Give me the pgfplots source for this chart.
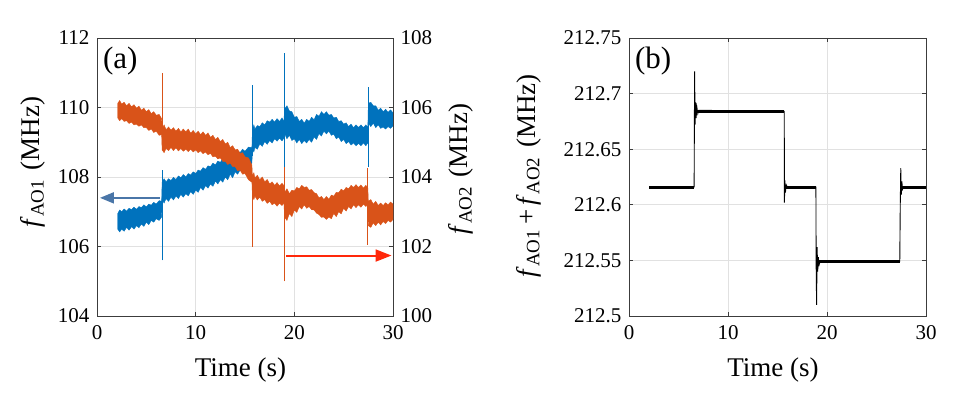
\documentclass[border=0pt]{standalone}
\usepackage{fontspec}
\setmainfont{Liberation Serif}
\usepackage{pgfplots}
\pgfplotsset{compat=1.18}
\usetikzlibrary{arrows.meta}

\definecolor{mblue}{RGB}{0,114,189}
\definecolor{morange}{RGB}{217,83,25}
\definecolor{arrblue}{RGB}{74,118,168}
\definecolor{arrred}{RGB}{255,40,10}
\definecolor{gridc}{RGB}{225,225,225}
\definecolor{axc}{RGB}{60,60,60}

\newcommand{\tickfont}{\fontsize{21}{21}\selectfont}
\newcommand{\labfont}{\fontsize{27}{27}\selectfont}

\pgfplotsset{
  base/.style={
    scale only axis, width=296pt, height=278pt,
    xmin=0, xmax=30, xtick={0,10,20,30},
    tick align=inside, major tick length=4pt,
    axis line style={axc, line width=0.8pt},
    every tick/.style={axc, line width=0.8pt},
    tick label style={font=\tickfont},
    label style={font=\labfont},
    /pgf/number format/assume math mode=true,
    xticklabel style={yshift=-6pt},
    xlabel={Time (s)},
    xlabel style={at={(axis description cs:0.485,-0.195)}, anchor=center},
    clip=true,
  },
}

\begin{document}
\begin{tikzpicture}
\path[use as bounding box] (0pt,0pt) rectangle (957pt,394pt);

% ---------------- (a) left axis: f_AO1 ----------------
\begin{axis}[base,
  at={(97pt,78pt)}, anchor=south west,
  ymin=104, ymax=112, ytick={104,106,108,110,112},
  ytick pos=left,
  xmajorgrids, ymajorgrids,
  grid style={gridc, line width=0.8pt},
  yticklabel style={xshift=-4pt},
  ylabel={\textit{f}\textsubscript{AO1}\hspace{0.35em}(MHz)},
  ylabel style={at={(axis description cs:-0.216,0.554)}, anchor=center, rotate=0},
]
% noisy band of f_AO1 (upper edge, then lower edge back)
\addplot[fill=mblue, draw=mblue, line width=0.4pt] coordinates {
(2.1,106.95) (2.3,107.05) (2.5,107.00) (2.75,107.08) (3.0,107.02) (3.25,107.1) (3.5,107.06)
(3.75,107.13) (4.0,107.07) (4.25,107.15) (4.5,107.12) (4.75,107.2) (5.0,107.14) (5.25,107.22)
(5.5,107.19) (5.75,107.27) (6.0,107.22) (6.3,107.32) (6.55,107.30) (6.6,107.85) (6.8,107.95)
(7.0,107.86) (7.25,107.95) (7.5,107.90) (7.75,107.99) (8.0,107.93) (8.25,108.03) (8.5,107.98)
(8.75,108.07) (9.0,108.00) (9.25,108.1) (9.5,108.06) (9.75,108.15) (10.0,108.10) (10.25,108.2)
(10.5,108.17) (10.75,108.27) (11.0,108.22) (11.25,108.32) (11.5,108.30) (11.75,108.4) (12.0,108.35)
(12.25,108.46) (12.5,108.42) (12.75,108.53) (13.0,108.48) (13.25,108.6) (13.5,108.58) (13.75,108.7)
(14.0,108.65) (14.25,108.76) (14.5,108.70) (14.75,108.8) (15.0,108.74) (15.35,108.86) (15.7,108.85)
(15.75,109.35) (15.9,109.5) (16.0,109.38) (16.25,109.48) (16.5,109.45) (16.75,109.56) (17.0,109.50)
(17.25,109.62) (17.5,109.58) (17.75,109.66) (18.0,109.58) (18.25,109.68) (18.5,109.60) (18.75,109.7)
(18.95,109.60) (19.0,109.95) (19.25,110.05) (19.5,109.90) (19.75,109.88) (20.0,109.72) (20.25,109.74)
(20.5,109.60) (20.75,109.66) (21.0,109.55) (21.25,109.66) (21.5,109.60) (21.75,109.72) (22.0,109.65)
(22.25,109.8) (22.5,109.75) (22.75,109.88) (23.0,109.80) (23.25,109.88) (23.5,109.78) (23.75,109.8)
(24.0,109.70) (24.25,109.72) (24.5,109.60) (24.75,109.62) (25.0,109.52) (25.25,109.56) (25.5,109.45)
(25.75,109.52) (26.0,109.42) (26.25,109.5) (26.5,109.43) (26.75,109.5) (27.0,109.42) (27.25,109.5)
(27.45,109.42) (27.5,110.12) (27.75,110.15) (28.0,110.05) (28.25,110.05) (28.5,109.92) (28.75,109.98)
(29.0,109.88) (29.25,109.95) (29.5,109.86) (29.75,109.93) (30.0,109.85)
(30.0,109.47) (29.75,109.4) (29.5,109.45) (29.25,109.38) (29.0,109.44) (28.75,109.4) (28.5,109.50)
(28.25,109.42) (28.0,109.55) (27.75,109.45) (27.5,109.55) (27.45,108.98) (27.25,108.9) (27.0,108.98)
(26.75,108.9) (26.5,108.97) (26.25,108.9) (26.0,108.98) (25.75,108.92) (25.5,109.02) (25.25,108.96)
(25.0,109.08) (24.75,109.02) (24.5,109.15) (24.25,109.1) (24.0,109.23) (23.75,109.2) (23.5,109.32)
(23.25,109.24) (23.0,109.32) (22.75,109.18) (22.5,109.25) (22.25,109.08) (22.0,109.15) (21.75,109.0)
(21.5,109.08) (21.25,108.98) (21.0,109.05) (20.75,108.96) (20.5,109.08) (20.25,108.98) (20.0,109.10)
(19.75,109.05) (19.5,109.20) (19.25,109.1) (19.0,109.25) (18.95,109.12) (18.75,109.04) (18.5,109.12)
(18.25,109.03) (18.0,109.10) (17.75,108.98) (17.5,109.05) (17.25,108.94) (17.0,109.02) (16.75,108.88)
(16.5,108.95) (16.25,108.8) (16.0,108.85) (15.9,108.72) (15.75,108.80) (15.7,108.40) (15.35,108.26)
(15.0,108.28) (14.75,108.14) (14.5,108.20) (14.25,108.08) (14.0,108.15) (13.75,107.98) (13.5,108.08)
(13.25,107.92) (13.0,108.00) (12.75,107.85) (12.5,107.92) (12.25,107.8) (12.0,107.88) (11.75,107.73)
(11.5,107.80) (11.25,107.68) (11.0,107.75) (10.75,107.62) (10.5,107.70) (10.25,107.56) (10.0,107.62)
(9.75,107.5) (9.5,107.58) (9.25,107.46) (9.0,107.52) (8.75,107.42) (8.5,107.50) (8.25,107.38)
(8.0,107.45) (7.75,107.34) (7.5,107.42) (7.25,107.3) (7.0,107.38) (6.8,107.25) (6.6,107.35)
(6.55,106.85) (6.3,106.75) (6.0,106.80) (5.75,106.7) (5.5,106.75) (5.25,106.63) (5.0,106.70)
(4.75,106.58) (4.5,106.65) (4.25,106.54) (4.0,106.60) (3.75,106.5) (3.5,106.57) (3.25,106.47)
(3.0,106.55) (2.75,106.44) (2.5,106.50) (2.3,106.42) (2.1,106.50)
} -- cycle;
% transients of f_AO1 at the switching instants
\addplot[mblue, line width=1pt] coordinates {(6.6,105.6) (6.6,108.2)};
\addplot[mblue, line width=1pt] coordinates {(15.75,108.6) (15.75,110.65)};
\addplot[mblue, line width=1pt] coordinates {(19.0,108.3) (19.0,111.58)};
\addplot[mblue, line width=1pt] coordinates {(27.5,108.3) (27.5,110.6)};
% arrow pointing to the left axis
\addplot[arrblue, line width=2pt, -{Triangle[length=14pt, width=11pt]}] coordinates {(6.4,107.4) (0.3,107.4)};
\node[anchor=west, font=\fontsize{31}{31}\selectfont, inner sep=0pt] at (axis description cs:0.02,0.917) {(a)};
\end{axis}

% ---------------- (a) right axis: f_AO2 ----------------
\begin{axis}[base,
  at={(97pt,78pt)}, anchor=south west,
  ymin=100, ymax=108, ytick={100,102,104,106,108},
  axis y line*=right, axis x line=none,
  yticklabel style={xshift=4pt},
  ylabel={\textit{f}\textsubscript{AO2}\hspace{0.35em}(MHz)},
  ylabel style={at={(axis description cs:1.23,0.529)}, anchor=center, rotate=0},
]
% noisy band of f_AO2 (upper edge, then lower edge back)
\addplot[fill=morange, draw=morange, line width=0.4pt] coordinates {
(2.1,106.12) (2.3,106.2) (2.5,106.10) (2.75,106.15) (3.0,106.05) (3.25,106.12) (3.5,106.02)
(3.75,106.08) (4.0,105.98) (4.25,106.04) (4.5,105.92) (4.75,105.98) (5.0,105.88) (5.25,105.94)
(5.5,105.82) (5.75,105.88) (6.0,105.78) (6.3,105.8) (6.55,105.68) (6.6,105.38) (6.8,105.5)
(7.0,105.36) (7.25,105.44) (7.5,105.35) (7.75,105.42) (8.0,105.32) (8.25,105.4) (8.5,105.30)
(8.75,105.38) (9.0,105.30) (9.25,105.38) (9.5,105.26) (9.75,105.34) (10.0,105.24) (10.25,105.32)
(10.5,105.22) (10.75,105.3) (11.0,105.20) (11.25,105.27) (11.5,105.14) (11.75,105.2) (12.0,105.08)
(12.25,105.14) (12.5,105.02) (12.75,105.08) (13.0,104.95) (13.25,105.0) (13.5,104.85) (13.75,104.9)
(14.0,104.78) (14.25,104.8) (14.5,104.68) (14.75,104.7) (15.0,104.58) (15.35,104.55) (15.7,104.35)
(15.75,104.02) (15.9,104.12) (16.0,103.98) (16.25,104.05) (16.5,103.92) (16.75,104.0) (17.0,103.86)
(17.25,103.93) (17.5,103.80) (17.75,103.86) (18.0,103.76) (18.25,103.84) (18.5,103.74) (18.75,103.82)
(18.95,103.75) (19.0,103.55) (19.25,103.66) (19.5,103.52) (19.75,103.62) (20.0,103.60) (20.25,103.7)
(20.5,103.66) (20.75,103.76) (21.0,103.70) (21.25,103.72) (21.5,103.62) (21.75,103.64) (22.0,103.55)
(22.25,103.52) (22.5,103.40) (22.75,103.44) (23.0,103.35) (23.25,103.44) (23.5,103.36) (23.75,103.48)
(24.0,103.45) (24.25,103.56) (24.5,103.55) (24.75,103.65) (25.0,103.60) (25.25,103.7) (25.5,103.66)
(25.75,103.76) (26.0,103.70) (26.25,103.78) (26.5,103.70) (26.75,103.77) (27.0,103.68) (27.25,103.76)
(27.45,103.68) (27.5,103.30) (27.75,103.35) (28.0,103.22) (28.25,103.3) (28.5,103.18) (28.75,103.25)
(29.0,103.18) (29.25,103.26) (29.5,103.20) (29.75,103.28) (30.0,103.22)
(30.0,102.78) (29.75,102.7) (29.5,102.75) (29.25,102.66) (29.0,102.72) (28.75,102.62) (28.5,102.70)
(28.25,102.6) (28.0,102.68) (27.75,102.55) (27.5,102.60) (27.45,103.22) (27.25,103.15) (27.0,103.22)
(26.75,103.13) (26.5,103.20) (26.25,103.12) (26.0,103.20) (25.75,103.08) (25.5,103.15) (25.25,103.02)
(25.0,103.10) (24.75,102.94) (24.5,103.00) (24.25,102.86) (24.0,102.95) (23.75,102.8) (23.5,102.85)
(23.25,102.78) (23.0,102.85) (22.75,102.84) (22.5,102.92) (22.25,102.96) (22.0,103.05) (21.75,103.06)
(21.5,103.15) (21.25,103.1) (21.0,103.20) (20.75,103.08) (20.5,103.15) (20.25,102.98) (20.0,103.05)
(19.75,102.86) (19.5,102.95) (19.25,102.75) (19.0,102.85) (18.95,103.25) (18.75,103.18) (18.5,103.25)
(18.25,103.16) (18.0,103.25) (17.75,103.2) (17.5,103.30) (17.25,103.24) (17.0,103.35) (16.75,103.3)
(16.5,103.42) (16.25,103.34) (16.0,103.45) (15.9,103.35) (15.75,103.45) (15.7,103.85) (15.35,103.92)
(15.0,104.10) (14.75,104.08) (14.5,104.20) (14.25,104.18) (14.0,104.30) (13.75,104.3) (13.5,104.40)
(13.25,104.36) (13.0,104.45) (12.75,104.45) (12.5,104.55) (12.25,104.52) (12.0,104.60) (11.75,104.58)
(11.5,104.68) (11.25,104.64) (11.0,104.72) (10.75,104.67) (10.5,104.75) (10.25,104.7) (10.0,104.78)
(9.75,104.72) (9.5,104.80) (9.25,104.73) (9.0,104.80) (8.75,104.74) (8.5,104.82) (8.25,104.75)
(8.0,104.84) (7.75,104.76) (7.5,104.85) (7.25,104.76) (7.0,104.82) (6.8,104.7) (6.6,104.78)
(6.55,105.22) (6.3,105.2) (6.0,105.32) (5.75,105.28) (5.5,105.38) (5.25,105.34) (5.0,105.42)
(4.75,105.42) (4.5,105.50) (4.25,105.46) (4.0,105.52) (3.75,105.5) (3.5,105.58) (3.25,105.54)
(3.0,105.62) (2.75,105.6) (2.5,105.68) (2.3,105.62) (2.1,105.70)
} -- cycle;
% transients of f_AO2 at the switching instants
\addplot[morange, line width=1pt] coordinates {(6.6,104.8) (6.6,107.0)};
\addplot[morange, line width=1pt] coordinates {(15.72,102.0) (15.72,104.0)};
\addplot[morange, line width=1pt] coordinates {(19.0,101.0) (19.0,104.3)};
\addplot[morange, line width=1pt] coordinates {(27.45,102.05) (27.45,104.25)};
% arrow pointing to the right axis
\addplot[arrred, line width=2pt, -{Triangle[length=16pt, width=12pt]}] coordinates {(19.2,101.74) (29.85,101.74)};
\end{axis}

% ---------------- (b) sum frequency ----------------
\begin{axis}[base,
  at={(629pt,78pt)}, anchor=south west, width=297pt,
  ymin=212.5, ymax=212.75,
  ytick={212.5,212.55,212.6,212.65,212.7,212.75},
  yticklabels={212.5,212.55,212.6,212.65,212.7,212.75},
  scaled y ticks=false,
  xmajorgrids, ymajorgrids,
  grid style={gridc, line width=0.8pt},
  yticklabel style={xshift=-4pt},
  ylabel={\textit{f}\textsubscript{AO1}\,+\,\textit{f}\textsubscript{AO2}\hspace{0.35em}(MHz)},
  ylabel style={at={(axis description cs:-0.337,0.504)}, anchor=center, rotate=0},
]
% full trace with switching transients
\addplot[black, line width=0.9pt] coordinates {
(2.05,212.616) (6.58,212.616) (6.6,212.668) (6.63,212.720) (6.67,212.672)
(6.72,212.692) (6.78,212.678) (6.85,212.688) (6.95,212.682) (7.05,212.685)
(15.68,212.684) (15.7,212.602) (15.74,212.622) (15.8,212.611) (15.88,212.618)
(16.0,212.616) (18.88,212.616) (18.9,212.548) (18.95,212.510) (19.0,212.562)
(19.06,212.540) (19.12,212.553) (19.2,212.546) (19.3,212.549) (27.35,212.549)
(27.4,212.600) (27.45,212.633) (27.5,212.609) (27.56,212.621) (27.63,212.614)
(27.72,212.616) (30.0,212.616)
};
% noise width of the steady levels
\addplot[black, line width=3pt, line cap=butt] coordinates {(2.05,212.616) (6.58,212.616)};
\addplot[black, line width=3pt, line cap=butt] coordinates {(6.75,212.684) (15.68,212.684)};
\addplot[black, line width=3pt, line cap=butt] coordinates {(15.8,212.616) (18.88,212.616)};
\addplot[black, line width=3pt, line cap=butt] coordinates {(19.12,212.549) (27.35,212.549)};
\addplot[black, line width=3pt, line cap=butt] coordinates {(27.6,212.616) (30.0,212.616)};
\node[anchor=west, font=\fontsize{31}{31}\selectfont, inner sep=0pt] at (axis description cs:0.02,0.917) {(b)};
\end{axis}
\end{tikzpicture}
\end{document}
